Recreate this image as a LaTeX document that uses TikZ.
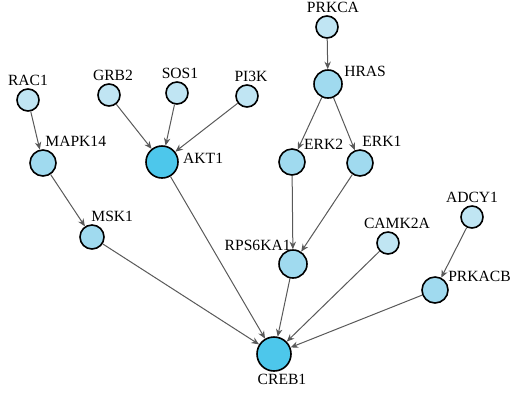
\documentclass[tikz,border=0pt]{standalone}
\usepackage{fontspec}
\setmainfont{Liberation Serif}
\usetikzlibrary{arrows.meta}
\definecolor{leafblue}{RGB}{192,229,243}
\definecolor{midblue}{RGB}{160,218,239}
\definecolor{hubblue}{RGB}{77,199,235}
\begin{document}
\begin{tikzpicture}[x=0.5pt, y=-0.5pt, font=\fontsize{7.8}{9}\selectfont, line join=round,
  gene/.style={circle, draw, line width=0.8pt, inner sep=0pt, minimum size=#1},
  leaf/.style={gene=11pt, fill=leafblue},
  mid/.style={gene=#1, fill=midblue}, mid/.default=13pt,
  hub/.style={gene=#1, fill=hubblue},
  every label/.style={inner sep=1pt},
  edge/.style={draw=black!65, line width=0.5pt, -{Stealth[length=3.8pt, width=3.2pt]}}]
\useasboundingbox (0,0) rectangle (512,393);
\node[leaf, label={[xshift=3pt]above:PRKCA}] (prkca) at (327,27) {};
\node[mid=14pt, label={[anchor=south west]20:HRAS}] (hras) at (328,84) {};
\node[leaf, label={above:RAC1}] (rac1) at (28,100) {};
\node[leaf, label={[xshift=2pt]above:GRB2}] (grb2) at (109,95) {};
\node[leaf, label={[xshift=1.5pt]above:SOS1}] (sos1) at (177,93) {};
\node[leaf, label={[xshift=2pt]above:PI3K}] (pi3k) at (247,96) {};
\node[mid, label={[anchor=south west]90:MAPK14}] (mapk14) at (43,163) {};
\node[hub=16pt, label={[xshift=1pt, yshift=2pt]right:AKT1}] (akt1) at (162,162) {};
\node[mid, label={[anchor=south west]45:ERK2}] (erk2) at (292,162) {};
\node[mid, label={[anchor=south west]90:ERK1}] (erk1) at (360,163) {};
\node[mid=12pt, label={[anchor=south west, xshift=-1.5pt]90:MSK1}] (msk1) at (92,237) {};
\node[mid=14pt, label={[anchor=south east, yshift=-2pt]90:RPS6KA1}] (rps6ka1) at (293,264) {};
\node[leaf, label={[xshift=4.5pt]above:CAMK2A}] (camk2a) at (388,243) {};
\node[leaf, label={above:ADCY1}] (adcy1) at (472,217) {};
\node[mid, label={[anchor=south west, xshift=-0.8pt]25:PRKACB}] (prkacb) at (435,290) {};
\node[hub=17pt, label={[xshift=4pt]below:CREB1}] (creb1) at (274,354) {};
\foreach \s/\t in {prkca/hras, hras/erk2, hras/erk1, rac1/mapk14, grb2/akt1, sos1/akt1,
  pi3k/akt1, mapk14/msk1, erk2/rps6ka1, erk1/rps6ka1, adcy1/prkacb, msk1/creb1,
  akt1/creb1, rps6ka1/creb1, camk2a/creb1, prkacb/creb1}
  \draw[edge] (\s) -- (\t);
\end{tikzpicture}
\end{document}
